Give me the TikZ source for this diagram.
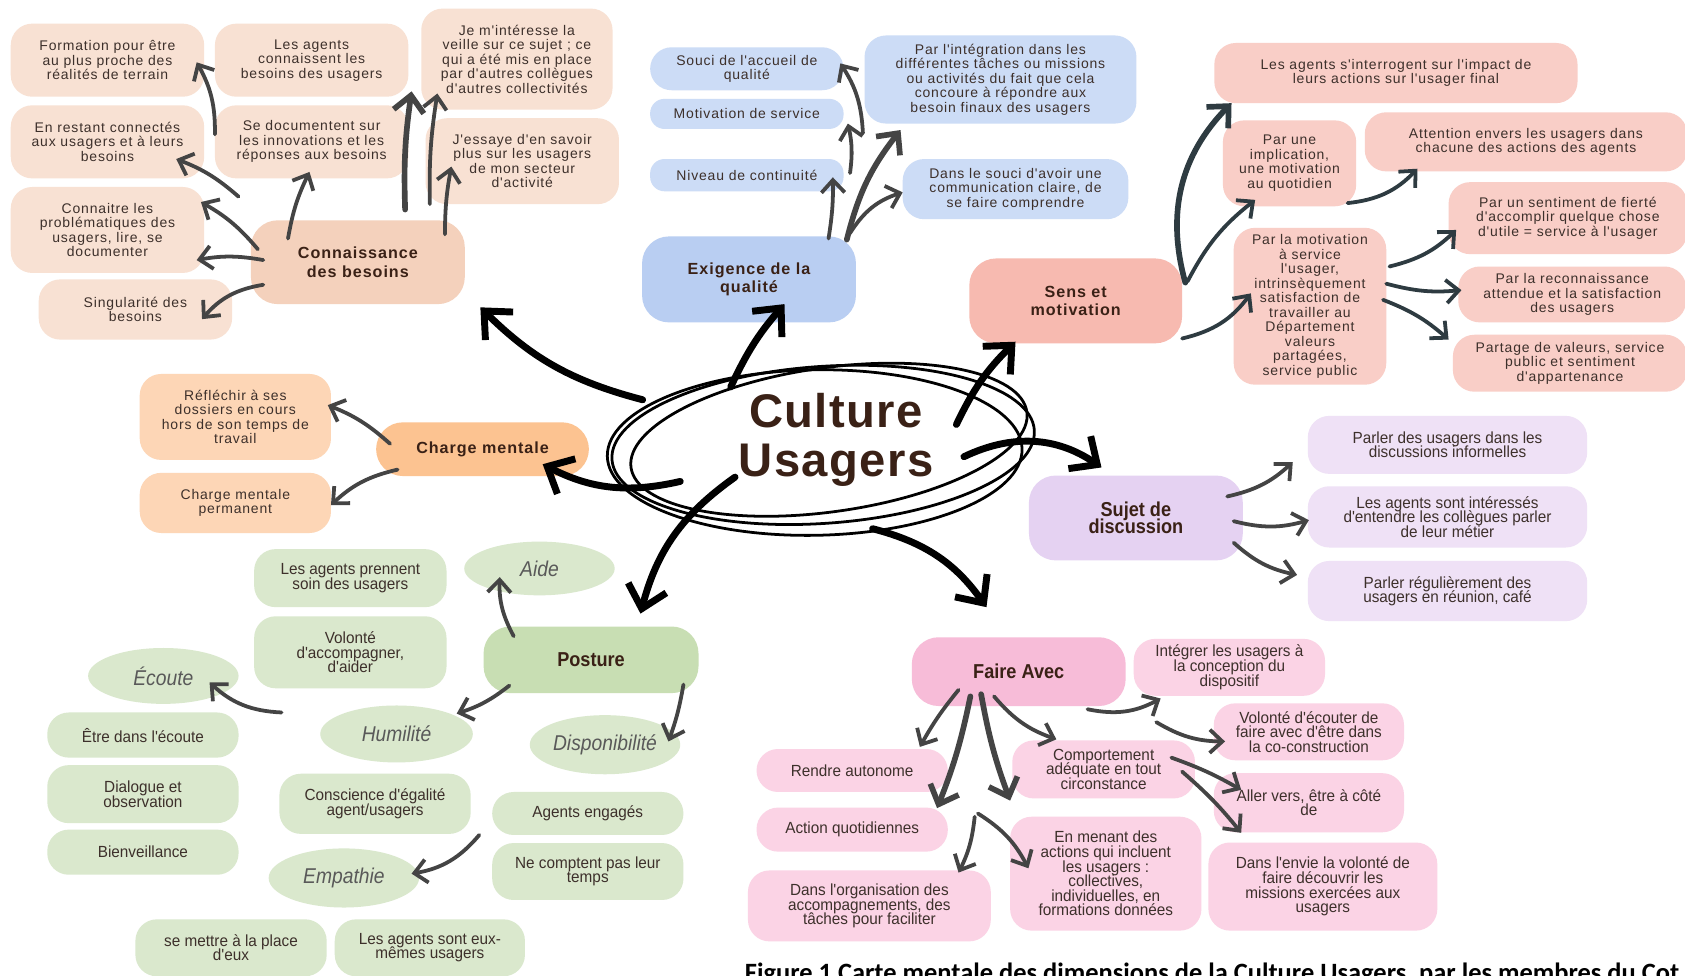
\documentclass[tikz,border=0pt]{standalone}
\usepackage{fontspec}
\setmainfont{Liberation Sans}
\newfontfamily\regfont[LetterSpace=6]{Liberation Sans}
\newfontfamily\condfont[FakeStretch=0.95]{Liberation Sans}
\newfontfamily\boldcond[FakeStretch=0.9]{Liberation Sans}
\newfontfamily\titlefont[LetterSpace=3]{Liberation Sans}
\newfontfamily\capfont{Carlito}
\usetikzlibrary{shapes,arrows.meta,calc}

\definecolor{txt}{HTML}{3D302B}
\definecolor{lbl}{HTML}{3A2116}
\definecolor{ovaltxt}{HTML}{595959}
\definecolor{arr}{HTML}{444444}
\definecolor{slate}{HTML}{2E3B41}
\definecolor{peachL}{HTML}{F8E1D3}
\definecolor{peachD}{HTML}{F4D1BC}
\definecolor{blueL}{HTML}{CCDCF6}
\definecolor{blueD}{HTML}{B9CEF2}
\definecolor{salmL}{HTML}{F9CEC7}
\definecolor{salmD}{HTML}{F7BAB0}
\definecolor{oranL}{HTML}{FDD6B6}
\definecolor{oranD}{HTML}{FCC391}
\definecolor{lavL}{HTML}{EFE1F6}
\definecolor{lavD}{HTML}{E5D2F2}
\definecolor{grnL}{HTML}{DAE8CD}
\definecolor{grnD}{HTML}{C8DEB3}
\definecolor{pinkL}{HTML}{FBD3E5}
\definecolor{pinkD}{HTML}{F7BCD8}

\newcommand{\fsub}{\regfont\fontsize{11.1}{11.5}\selectfont\lineskiplimit=-50pt}
\newcommand{\fmain}{\regfont\bfseries\fontsize{12.8}{14.5}\selectfont\lineskiplimit=-50pt}
\newcommand{\fcond}{\condfont\fontsize{12.8}{11.6}\selectfont\lineskiplimit=-50pt}
\newcommand{\fcondmain}{\boldcond\bfseries\fontsize{16}{13.7}\selectfont\lineskiplimit=-50pt}
\newcommand{\foval}{\boldcond\itshape\fontsize{17}{17}\selectfont}
\newcommand{\ftitle}{\titlefont\bfseries\fontsize{37.5}{39}\selectfont\lineskiplimit=-50pt}
\newcommand{\fcap}{\capfont\bfseries\fontsize{21}{24}\selectfont}

\tikzset{
  bx/.style={rectangle, rounded corners=0.6cm, inner sep=0pt, align=center, text=txt},
  sz/.style 2 args={minimum width=#1*0.03cm, minimum height=#2*0.03cm},
  slim/.style={rounded corners=0.4cm},
  reg/.style={bx, font=\fsub},
  regmain/.style={bx, rounded corners=0.75cm, font=\fmain, text=lbl},
  cond/.style={bx, font=\fcond},
  condmain/.style={bx, rounded corners=0.75cm, font=\fcondmain, text=lbl},
  oval/.style={ellipse, inner sep=0pt, font=\foval, text=ovaltxt, fill=grnL},
  sub/.style={draw=arr, line width=3pt, line cap=round, line join=round, -{Straight Barb[length=3.5mm, width=6.5mm]}},
  fat/.style={sub, line width=4.5pt, -{Straight Barb[length=4.5mm, width=8.5mm]}},
  sens/.style={sub, draw=slate},
  hub/.style={draw=black, line width=5.5pt, line cap=round, line join=round, -{Straight Barb[length=6mm, width=11mm]}}
}

\begin{document}
\begin{tikzpicture}[x=0.03cm, y=-0.03cm]
\useasboundingbox (0,0) rectangle (1568,908);
\fill[white] (0,0) rectangle (1568,908);

\node[font=\ftitle, text=lbl, align=center, inner sep=0pt] (cu) at (778,409) {Culture\\Usagers};
\coordinate (ring) at ($(cu)+(-12,5)$);
\foreach \ang/\rx/\ry/\dx/\dy in {4/197/73/0/0, 8/186/67/6/-4, 1/193/77/-8/7} {
  \draw[line width=2.2pt, rotate around={\ang:(ring)}] ($(ring)+(\dx,\dy)$) ellipse ({\rx} and {\ry});
}

\node[reg, sz={180}{68}, fill=peachL] (form) at (100,56) {Formation pour être\\au plus proche des\\réalités de terrain};
\node[reg, sz={180}{68}, fill=peachL] (agents) at (290,56) {Les agents\\connaissent les\\besoins des usagers};
\node[reg, sz={178}{94}, fill=peachL] (veille) at (481,55) {Je m'intéresse la\\veille sur ce sujet ; ce\\qui a été mis en place\\par d'autres collègues\\d'autres collectivités};
\node[reg, sz={180}{68}, fill=peachL] (enrest) at (100,132) {En restant connectés\\aux usagers et à leurs\\besoins};
\node[reg, sz={180}{68}, fill=peachL] (sedoc) at (290,132) {Se documentent sur\\les innovations et les\\réponses aux besoins};
\node[reg, sz={180}{80}, fill=peachL] (essaye) at (486,150) {J'essaye d'en savoir\\plus sur les usagers\\de mon secteur\\d'activité};
\node[reg, sz={180}{80}, fill=peachL] (conn) at (100,214) {Connaitre les\\problématiques des\\usagers, lire, se\\documenter};
\node[reg, sz={180}{56}, fill=peachL] (sing) at (126,288) {Singularité des\\besoins};
\node[regmain, sz={199}{78}, fill=peachD] (cb) at (333,244) {Connaissance\\des besoins};

\node[reg, sz={180}{40}, fill=blueL] (souci) at (695,64) {Souci de l'accueil de\\qualité};
\node[reg, slim, sz={180}{28}, fill=blueL] (motiv) at (695,106) {Motivation de service};
\node[reg, slim, sz={180}{30}, fill=blueL] (niveau) at (695,163) {Niveau de continuité};
\node[reg, sz={253}{82}, fill=blueL] (integ) at (931,74) {Par l'intégration dans les\\différentes tâches ou missions\\ou activités du fait que cela\\concoure à répondre aux\\besoin finaux des usagers};
\node[reg, sz={210}{56}, fill=blueL] (souci2) at (945,176) {Dans le souci d'avoir une\\communication claire, de\\se faire comprendre};
\node[regmain, sz={199}{80}, fill=blueD] (eq) at (697,260) {Exigence de la\\qualité};

\node[reg, sz={338}{56}, fill=salmL] (interro) at (1299,68) {Les agents s'interrogent sur l'impact de\\leurs actions sur l'usager final};
\node[reg, sz={124}{80}, fill=salmL] (implic) at (1200,152) {Par une\\implication,\\une motivation\\au quotidien};
\node[reg, sz={300}{55}, fill=salmL] (attention) at (1420,132) {Attention envers les usagers dans\\chacune des actions des agents};
\node[reg, sz={142}{146}, fill=salmL] (motivp) at (1219,285) {Par la motivation\\à service\\l'usager,\\intrinsèquement\\satisfaction de\\travailler au\\Département\\valeurs\\partagées,\\service public};
\node[reg, sz={222}{67}, fill=salmL] (fierte) at (1459,203) {Par un sentiment de fierté\\d'accomplir quelque chose\\d'utile = service à l'usager};
\node[reg, sz={212}{52}, fill=salmL] (recon) at (1463,274) {Par la reconnaissance\\attendue et la satisfaction\\des usagers};
\node[reg, sz={218}{53}, fill=salmL] (partage) at (1461,338) {Partage de valeurs, service\\public et sentiment\\d'appartenance};
\node[regmain, sz={198}{79}, fill=salmD] (sm) at (1001,280) {Sens et\\motivation};

\node[regmain, sz={198}{50}, fill=oranD] (cm) at (449,418) {Charge mentale};
\node[reg, sz={178}{80}, fill=oranL] (refl) at (219,388) {Réfléchir à ses\\dossiers en cours\\hors de son temps de\\travail};
\node[reg, sz={178}{56}, fill=oranL] (perm) at (219,468) {Charge mentale\\permanent};

\node[condmain, sz={200}{62}, fill=grnD] (po) at (550,614) {Posture};
\node[oval, sz={140}{50}] (aide) at (502,529) {Aide};
\node[cond, sz={179}{54}, fill=grnL] (soin) at (326,538) {Les agents prennent\\soin des usagers};
\node[cond, sz={179}{67}, fill=grnL] (volonte) at (326,607) {Volonté\\d'accompagner,\\d'aider};
\node[oval, sz={140}{52}] (ecoute) at (152,629) {Écoute};
\node[cond, sz={178}{42}, fill=grnL] (etre) at (133,684) {Être dans l'écoute};
\node[cond, sz={178}{54}, fill=grnL] (dialogue) at (133,739) {Dialogue et\\observation};
\node[cond, sz={178}{42}, fill=grnL] (bienv) at (133,793) {Bienveillance};
\node[oval, sz={142}{53}] (humil) at (369,683) {Humilité};
\node[oval, sz={140}{55}] (dispo) at (563,693) {Disponibilité};
\node[cond, sz={178}{56}, fill=grnL] (consc) at (349,748) {Conscience d'égalité\\agent/usagers};
\node[cond, sz={178}{40}, fill=grnL] (engag) at (547,757) {Agents engagés};
\node[cond, sz={178}{53}, fill=grnL] (necomp) at (547,811) {Ne comptent pas leur\\temps};
\node[oval, sz={140}{55}] (empat) at (320,817) {Empathie};
\node[cond, sz={178}{53}, fill=grnL] (mettre) at (215,882) {se mettre à la place\\d'eux};
\node[cond, sz={177}{53}, fill=grnL] (eux) at (400,882) {Les agents sont eux-\\mêmes usagers};

\node[condmain, sz={199}{79}, fill=lavD] (sujet) at (1057,482) {Sujet de\\discussion};
\node[cond, sz={260}{54}, fill=lavL] (pdu) at (1347,414) {Parler des usagers dans les\\discussions informelles};
\node[cond, sz={260}{57}, fill=lavL] (interes) at (1347,481) {Les agents sont intéressés\\d'entendre les collègues parler\\de leur métier};
\node[cond, sz={260}{56}, fill=lavL] (pregul) at (1347,550) {Parler régulièrement des\\usagers en réunion, café};

\node[condmain, sz={199}{64}, fill=pinkD] (fa) at (948,625) {Faire Avec};
\node[cond, sz={178}{53}, fill=pinkL] (integrer) at (1144,621) {Intégrer les usagers à\\la conception du\\dispositif};
\node[cond, sz={177}{53}, fill=pinkL] (volecout) at (1218,681) {Volonté d'écouter de\\faire avec d'être dans\\la co-construction};
\node[cond, sz={170}{54}, fill=pinkL] (comport) at (1027,716) {Comportement\\adéquate en tout\\circonstance};
\node[cond, sz={178}{40}, fill=pinkL] (rendre) at (793,717) {Rendre autonome};
\node[cond, sz={178}{41}, fill=pinkL] (actionq) at (793,772) {Action quotidiennes};
\node[cond, sz={226}{66}, fill=pinkL] (orga) at (809,843) {Dans l'organisation des\\accompagnements, des\\tâches pour faciliter};
\node[cond, sz={178}{106}, fill=pinkL] (menant) at (1029,813) {En menant des\\actions qui incluent\\les usagers :\\collectives,\\individuelles, en\\formations données};
\node[cond, sz={177}{55}, fill=pinkL] (aller) at (1218,747) {Aller vers, être à côté\\de};
\node[cond, sz={213}{82}, fill=pinkL] (envie) at (1231,825) {Dans l'envie la volonté de\\faire découvrir les\\missions exercées aux\\usagers};

\node[font=\fcap, text=black, anchor=base west, inner sep=0pt] (cap) at (693,913) {Figure 1 Carte mentale des dimensions de la Culture Usagers, par les membres du Cot};

\draw[sub] ($(cb)+(-133,-119)$) to[bend right=15] ($(form)+(83,2)$);
\draw[sub] ($(cb)+(-111,-61)$) to[bend right=10] ($(enrest)+(64,16)$);
\draw[sub] ($(cb)+(-93,-12)$) to[bend right=10] ($(conn)+(87,-26)$);
\draw[sub] ($(cb)+(-88,-2)$) to[bend right=10] ($(conn)+(83,28)$);
\draw[sub] ($(cb)+(-88,21)$) to[bend right=20] ($(sing)+(62,9)$);
\draw[sub] ($(cb)+(-65,-22)$) to[bend left=8] ($(sedoc)+(-2,28)$);
\draw[fat] ($(cb)+(44,-49)$) to[bend left=5] ($(agents)+(93,29)$);
\draw[sub] ($(cb)+(67,-54)$) to[bend left=5] ($(veille)+(-74,32)$);
\draw[sub] ($(cb)+(81,-26)$) to[bend left=5] ($(essaye)+(-66,5)$);

\draw[sub] ($(eq)+(106,-136)$) to[bend right=15] ($(souci)+(87,-5)$);
\draw[sub] ($(eq)+(94,-99)$) to[bend right=10] ($(motiv)+(94,9)$);
\draw[sub] ($(eq)+(74,-38)$) to[bend right=5] ($(niveau)+(80,2)$);
\draw[fat] ($(eq)+(91,-37)$) to[bend left=12] ($(integ)+(-93,47)$);
\draw[sub] ($(eq)+(94,-43)$) to[bend left=20] ($(souci2)+(-105,3)$);

\draw[fat, draw=slate] ($(sm)+(102,-17)$) to[bend left=30] ($(interro)+(-153,28)$);
\draw[sens] ($(sm)+(104,-18)$) to[bend left=12] ($(implic)+(-32,34)$);
\draw[sens] ($(sm)+(99,35)$) to[bend right=20] ($(motivp)+(-55,-12)$);
\draw[sens] ($(implic)+(54,37)$) to[bend right=20] ($(attention)+(-101,25)$);
\draw[sens] ($(motivp)+(74,-37)$) to[bend right=15] ($(fierte)+(-104,11)$);
\draw[sens] ($(motivp)+(71,-21)$) to[bend right=10] ($(recon)+(-103,-4)$);
\draw[sens] ($(motivp)+(68,-6)$) to[bend left=10] ($(partage)+(-113,-22)$);

\draw[sub] ($(cm)+(-86,-5)$) to[bend right=10] ($(refl)+(86,-11)$);
\draw[sub] ($(cm)+(-79,19)$) to[bend right=15] ($(perm)+(89,2)$);

\coordinate (ecT) at (262,663);
\coordinate (emT) at (446,777);
\draw[sub] ($(po)+(-72,-22)$) to[bend left=15] ($(aide)+(-37,8)$);
\draw[sub] ($(po)+(-76,24)$) to[bend left=10] ($(humil)+(56,-19)$);
\draw[sub] ($(po)+(86,23)$) to[bend left=5] ($(dispo)+(59,-3)$);
\draw[sub] (ecT) to[bend left=20] ($(ecoute)+(43,6)$);
\draw[sub] (emT) to[bend left=20] ($(empat)+(63,-4)$);

\draw[sub] ($(sujet)+(85,-20)$) to[bend right=15] ($(pdu)+(-144,16)$);
\draw[sub] ($(sujet)+(91,3)$) to[bend right=15] ($(interes)+(-129,3)$);
\draw[sub] ($(sujet)+(91,23)$) to[bend right=15] ($(pregul)+(-140,-15)$);

\draw[sub] ($(fa)+(-56,17)$) to[bend right=5] ($(rendre)+(63,-22)$);
\draw[fat] ($(fa)+(-45,23)$) to[bend left=5] ($(actionq)+(79,-20)$);
\draw[fat] ($(fa)+(-35,21)$) to[bend right=5] ($(comport)+(-87,29)$);
\draw[sub] ($(fa)+(-23,23)$) to[bend right=15] ($(comport)+(-44,-28)$);
\draw[sub] ($(fa)+(64,35)$) to[bend right=20] ($(integrer)+(-64,29)$);
\draw[sub] ($(integrer)+(-68,51)$) to[bend right=15] ($(volecout)+(-78,9)$);
\draw[sub] ($(comport)+(63,-11)$) to[bend left=5] ($(aller)+(-63,-12)$);
\draw[sub] ($(comport)+(73,2)$) to[bend left=5] ($(aller)+(-63,28)$);
\draw[sub] ($(fa)+(-41,135)$) to[bend left=10] ($(orga)+(83,-31)$);
\draw[sub] ($(fa)+(-38,132)$) to[bend left=15] ($(menant)+(-72,-5)$);

\draw[hub] ($(cu)+(-180,-37)$) to[bend left=15] ($(cb)+(114,42)$);
\draw[hub] ($(cu)+(-98,-49)$) to[bend left=8] ($(eq)+(33,23)$);
\draw[hub] ($(cu)+(112,-14)$) to[bend left=10] ($(sm)+(-56,38)$);
\draw[hub] ($(cu)+(119,16)$) to[bend left=30] ($(sujet)+(-32,-47)$);
\draw[hub] ($(cu)+(-145,39)$) to[bend left=20] ($(cm)+(56,14)$);
\draw[hub] ($(cu)+(-94,35)$) to[bend right=20] ($(po)+(46,-43)$);
\draw[hub] ($(cu)+(34,83)$) to[bend left=20] ($(fa)+(-30,-60)$);
\end{tikzpicture}
\end{document}
